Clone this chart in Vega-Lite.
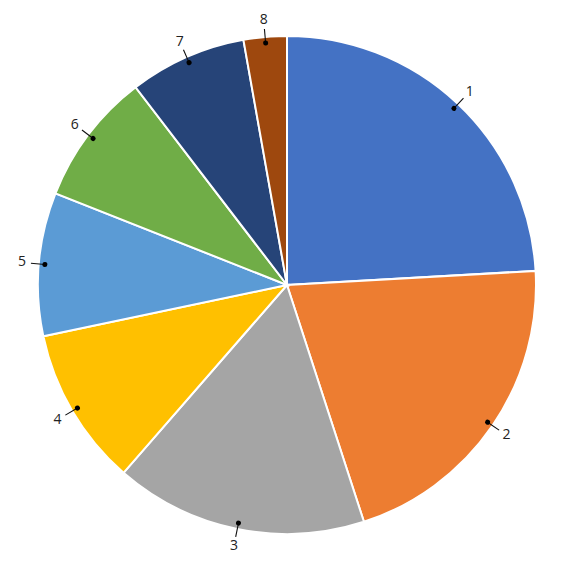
{
  "$schema": "https://vega.github.io/schema/vega-lite/v6.json",
  "width": 574,
  "height": 570,
  "autosize": "none",
  "padding": 0,
  "background": "white",
  "config": {"view": {"stroke": null}},
  "data": {
    "values": [
      {"slice": 1, "value": 24.1},
      {"slice": 2, "value": 20.9},
      {"slice": 3, "value": 16.4},
      {"slice": 4, "value": 10.3},
      {"slice": 5, "value": 9.3},
      {"slice": 6, "value": 8.6},
      {"slice": 7, "value": 7.6},
      {"slice": 8, "value": 2.8}
    ]
  },
  "transform": [
    {"window": [{"op": "sum", "field": "value", "as": "cum"}], "sort": [{"field": "slice"}], "frame": [null, 0]},
    {"calculate": "datum.cum - datum.value / 2", "as": "mid"},
    {"calculate": "datum.mid - 0.035", "as": "lineLo"},
    {"calculate": "datum.mid + 0.035", "as": "lineHi"},
    {"calculate": "datum.mid - 0.165", "as": "dotLo"},
    {"calculate": "datum.mid + 0.165", "as": "dotHi"}
  ],
  "layer": [
    {
      "mark": {"type": "arc", "outerRadius": 249, "stroke": "white", "strokeWidth": 2},
      "encoding": {
        "theta": {"field": "value", "type": "quantitative", "stack": true, "scale": {"domain": [0, 100]}},
        "order": {"field": "slice", "type": "quantitative"},
        "color": {
          "field": "slice",
          "type": "nominal",
          "scale": {
            "domain": [1, 2, 3, 4, 5, 6, 7, 8],
            "range": ["#4472C4", "#ED7D31", "#A5A5A5", "#FFC000", "#5B9BD5", "#70AD47", "#264478", "#9E480E"]
          },
          "legend": null
        }
      }
    },
    {
      "mark": {"type": "arc", "innerRadius": 243, "outerRadius": 257, "color": "#111111"},
      "encoding": {
        "theta": {"field": "lineLo", "type": "quantitative", "stack": null},
        "theta2": {"field": "lineHi"}
      }
    },
    {
      "mark": {"type": "arc", "innerRadius": 240.5, "outerRadius": 245.5, "cornerRadius": 2.5, "color": "#000000"},
      "encoding": {
        "theta": {"field": "dotLo", "type": "quantitative", "stack": null},
        "theta2": {"field": "dotHi"}
      }
    },
    {
      "mark": {"type": "text", "radius": 266, "font": "Open Sans", "fontSize": 14, "color": "#222222", "align": "center", "baseline": "middle"},
      "encoding": {
        "theta": {"field": "value", "type": "quantitative", "stack": true},
        "order": {"field": "slice", "type": "quantitative"},
        "text": {"field": "slice", "type": "nominal"}
      }
    }
  ]
}
